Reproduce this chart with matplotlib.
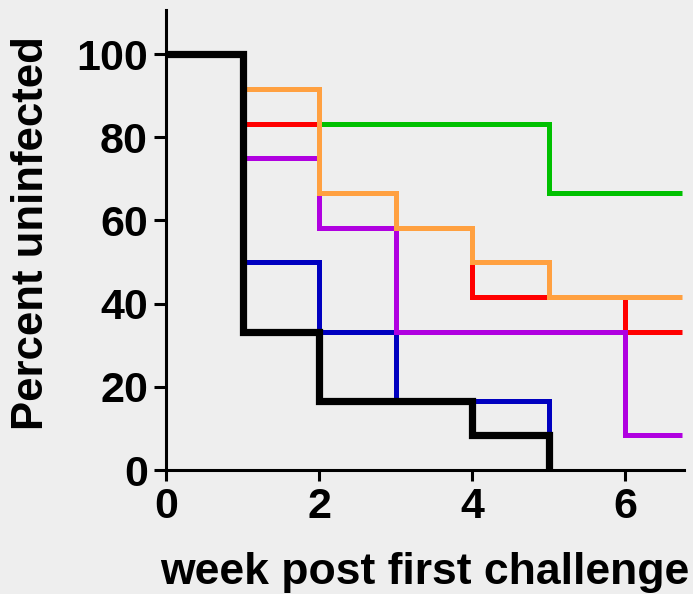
import matplotlib.pyplot as plt

# Step curves: value held from each week until the next change,
# each group followed to its own last week
weeks_green = [0, 1, 5]
green = [100, 83.3, 66.7]
weeks_red = [0, 1, 2, 3, 4, 6]
red = [100, 83.3, 66.7, 58.3, 41.7, 33.3]
weeks_blue = [0, 1, 2, 3, 5]
blue = [100, 50, 33.3, 16.7, 0]
weeks_purple = [0, 1, 2, 3, 6]
purple = [100, 75, 58.3, 33.3, 8.3]
weeks_orange = [0, 1, 2, 3, 4, 5]
orange = [100, 91.7, 66.7, 58.3, 50, 41.7]
weeks_black = [0, 1, 2, 4, 5]
black = [100, 33.3, 16.7, 8.3, 0]
last_week = 6.75

series = [
    (weeks_green, green, '#00c000', 3.6),
    (weeks_red, red, '#ff0000', 3.6),
    (weeks_blue, blue, '#0000c0', 3.6),
    (weeks_purple, purple, '#b000e0', 3.6),
    (weeks_orange, orange, '#ffa040', 3.6),
    (weeks_black, black, '#000000', 5.2),
]

plt.rcParams['font.family'] = ['Liberation Sans', 'DejaVu Sans']
plt.rcParams['font.weight'] = 'bold'

fig = plt.figure(figsize=(6.93, 5.94), dpi=100, facecolor='#eeeeee')
ax = fig.add_axes([166 / 693, 124 / 594, 518 / 693, 460 / 594])
ax.set_facecolor('#eeeeee')

for wk, val, col, lw in series:
    xs, ys = list(wk), list(val)
    if ys[-1] > 0:
        # still uninfected at the end of follow-up
        xs.append(last_week)
        ys.append(ys[-1])
    ax.step(xs, ys, where='post', color=col, lw=lw,
            solid_joinstyle='miter', solid_capstyle='butt')

ax.set_xlim(0, 6.77)
ax.set_ylim(0, 110.6)
ax.set_xticks([0, 2, 4, 6])
ax.set_yticks([0, 20, 40, 60, 80, 100])

for side in ['top', 'right']:
    ax.spines[side].set_visible(False)
for side in ['left', 'bottom']:
    ax.spines[side].set_linewidth(2.2)

ax.tick_params(axis='both', direction='out', width=2.2, labelsize=31)
ax.tick_params(axis='y', length=9, pad=4)
ax.tick_params(axis='x', length=8, pad=4)

ax.set_ylabel('Percent uninfected', fontsize=31.5, fontweight='bold')
ax.set_xlabel('week post first challenge', fontsize=32, fontweight='bold')
ax.yaxis.set_label_coords(-0.259, 0.516)
ax.xaxis.set_label_coords(0.5, -0.223)
ax.xaxis.label.set_va('center')
ax.yaxis.label.set_va('center')

fig.savefig('out.png', dpi=100, facecolor=fig.get_facecolor())
